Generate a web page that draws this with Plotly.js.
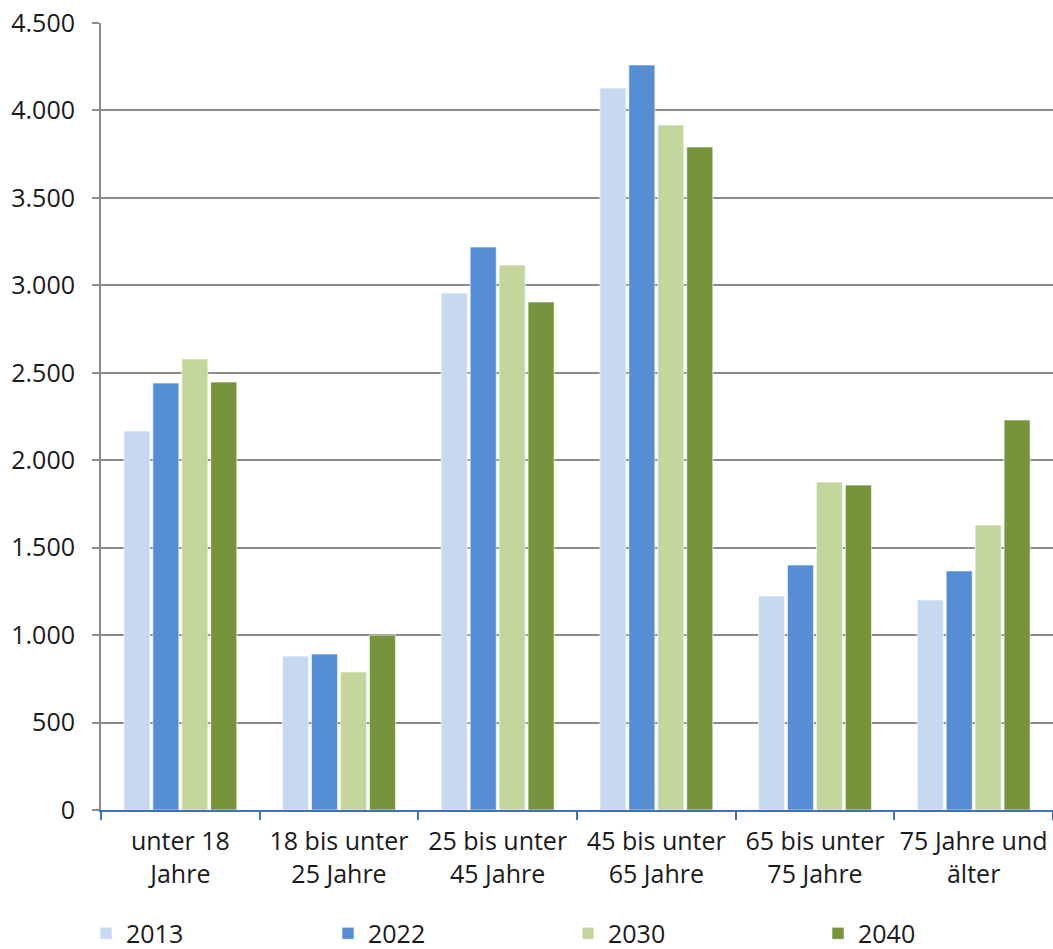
<!DOCTYPE html>
<html>
<head>
<meta charset="utf-8">
<script src="https://cdn.plot.ly/plotly-3.0.1.min.js"></script>
<style>html,body{margin:0;padding:0;background:#fff;}#chart{width:1053px;height:949px;}</style>
</head>
<body>
<div id="chart"></div>
<script>
const categories = ["unter 18<br>Jahre", "18 bis unter<br>25 Jahre", "25 bis unter<br>45 Jahre", "45 bis unter<br>65 Jahre", "65 bis unter<br>75 Jahre", "75 Jahre und<br>älter"];
const seriesNames = ["2013", "2022", "2030", "2040"];
const v2013 = [2167, 880, 2956, 4128, 1224, 1201];
const v2022 = [2441, 892, 3219, 4260, 1401, 1367];
const v2030 = [2579, 789, 3116, 3917, 1875, 1630];
const v2040 = [2447, 1000, 2905, 3791, 1858, 2230];
const yTickVals = [0, 500, 1000, 1500, 2000, 2500, 3000, 3500, 4000, 4500];
const yTickText = ["0", "500", "1.000", "1.500", "2.000", "2.500", "3.000", "3.500", "4.000", "4.500"];

const colors = ["#c6d9f1", "#558ed5", "#c3d69b", "#77933c"];
const values = [v2013, v2022, v2030, v2040];
const font = "Open Sans, sans-serif";
const legendIds = ["legend", "legend2", "legend3", "legend4"];
const legendX = [86, 328, 568, 818];

const traces = seriesNames.map((n, i) => ({
  type: "bar",
  name: n,
  x: categories,
  y: values[i],
  legend: legendIds[i],
  marker: {color: colors[i], line: {color: "rgba(255,255,255,0.6)", width: 1}},
  hoverinfo: "none"
}));

const layout = {
  width: 1053, height: 949,
  margin: {l: 101, r: 0, t: 23, b: 139, autoexpand: false},
  paper_bgcolor: "#fff", plot_bgcolor: "#fff",
  font: {family: font, size: 25, color: "#1a1a1a"},
  barmode: "group",
  bargap: 0.27,
  bargroupgap: 0.1,
  showlegend: true,
  xaxis: {
    type: "category",
    showline: true, linecolor: "#3f72b8", linewidth: 2,
    ticks: "outside", tickson: "boundaries", ticklen: 8, tickcolor: "#3f72b8", tickwidth: 2,
    showgrid: false, zeroline: false, fixedrange: true,
    tickfont: {family: font, size: 25, color: "#1a1a1a"},
    ticklabelstandoff: 8
  },
  yaxis: {
    range: [0, 4500],
    tickvals: yTickVals, ticktext: yTickText,
    showline: true, linecolor: "#8c8c8c", linewidth: 2,
    ticks: "outside", ticklen: 7, tickcolor: "#8c8c8c", tickwidth: 2,
    showgrid: true, gridcolor: "#8c8c8c", gridwidth: 2,
    zeroline: false, fixedrange: true,
    tickfont: {family: font, size: 25, color: "#1a1a1a"},
    ticklabelstandoff: 12
  }
};

legendIds.forEach((id, i) => {
  layout[id] = {
    orientation: "h",
    x: legendX[i] / 1053, xref: "container", xanchor: "left",
    y: -0.157, yref: "paper", yanchor: "middle",
    bgcolor: "rgba(0,0,0,0)",
    itemwidth: 30,
    font: {family: font, size: 25, color: "#1a1a1a"}
  };
});

Plotly.newPlot("chart", traces, layout, {displayModeBar: false, staticPlot: true});
</script>
</body>
</html>
